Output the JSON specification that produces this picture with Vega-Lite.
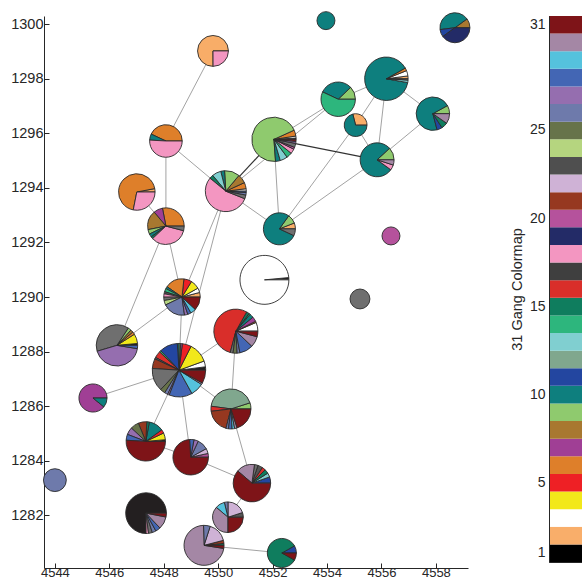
{
"$schema": "https://vega.github.io/schema/vega-lite/v6.json",
"padding": {"left": 10, "top": 9, "right": 0, "bottom": 0},
"config": {"view": {"stroke": null}, "font": "Liberation Sans",
  "axis": {"labelFont": "Liberation Sans", "labelFontSize": 14.5, "labelColor": "#262626", "titleFont": "Liberation Sans", "titleColor": "#262626", "domainColor": "#262626", "tickColor": "#262626", "grid": false}},
"resolve": {"scale": {"color": "independent"}},
"bounds": "flush",
"spacing": 81,
"datasets": {
 "nodes": [
  {"node": "N1", "x": 4549.81, "y": 1299.02},
  {"node": "N2", "x": 4553.96, "y": 1300.13},
  {"node": "N3", "x": 4558.70, "y": 1299.87},
  {"node": "N4", "x": 4547.01, "y": 1293.85},
  {"node": "N5", "x": 4548.08, "y": 1295.72},
  {"node": "N6", "x": 4548.08, "y": 1292.60},
  {"node": "N7", "x": 4550.28, "y": 1293.88},
  {"node": "N8", "x": 4552.05, "y": 1295.78},
  {"node": "N9", "x": 4551.70, "y": 1290.63},
  {"node": "N10", "x": 4554.41, "y": 1297.25},
  {"node": "N11", "x": 4555.05, "y": 1296.30},
  {"node": "N12", "x": 4556.18, "y": 1298.00},
  {"node": "N13", "x": 4557.89, "y": 1296.72},
  {"node": "N14", "x": 4555.84, "y": 1295.03},
  {"node": "N15", "x": 4556.35, "y": 1292.24},
  {"node": "N16", "x": 4555.21, "y": 1289.93},
  {"node": "N17", "x": 4546.28, "y": 1288.23},
  {"node": "N18", "x": 4550.65, "y": 1288.75},
  {"node": "N19", "x": 4548.56, "y": 1287.32},
  {"node": "N20", "x": 4545.40, "y": 1286.30},
  {"node": "N21", "x": 4550.47, "y": 1285.90},
  {"node": "N22", "x": 4548.67, "y": 1290.00},
  {"node": "N23", "x": 4547.34, "y": 1284.71},
  {"node": "N24", "x": 4548.99, "y": 1284.13},
  {"node": "N25", "x": 4551.24, "y": 1283.18},
  {"node": "N26", "x": 4544.00, "y": 1283.29},
  {"node": "N27", "x": 4547.35, "y": 1282.08},
  {"node": "N28", "x": 4550.36, "y": 1281.93},
  {"node": "N29", "x": 4549.48, "y": 1280.90},
  {"node": "N30", "x": 4552.34, "y": 1280.62},
  {"node": "N31", "x": 4552.25, "y": 1292.50}
 ],
 "edges": [
  {"source": "N1", "target": "N5", "tie": "weak"},
  {"source": "N5", "target": "N6", "tie": "weak"},
  {"source": "N5", "target": "N7", "tie": "weak"},
  {"source": "N4", "target": "N6", "tie": "weak"},
  {"source": "N6", "target": "N22", "tie": "weak"},
  {"source": "N6", "target": "N17", "tie": "weak"},
  {"source": "N7", "target": "N10", "tie": "weak"},
  {"source": "N8", "target": "N10", "tie": "weak"},
  {"source": "N10", "target": "N12", "tie": "weak"},
  {"source": "N12", "target": "N13", "tie": "weak"},
  {"source": "N12", "target": "N14", "tie": "weak"},
  {"source": "N12", "target": "N11", "tie": "weak"},
  {"source": "N11", "target": "N31", "tie": "weak"},
  {"source": "N11", "target": "N14", "tie": "weak"},
  {"source": "N14", "target": "N13", "tie": "weak"},
  {"source": "N8", "target": "N31", "tie": "weak"},
  {"source": "N7", "target": "N31", "tie": "weak"},
  {"source": "N14", "target": "N31", "tie": "weak"},
  {"source": "N7", "target": "N22", "tie": "weak"},
  {"source": "N7", "target": "N19", "tie": "weak"},
  {"source": "N22", "target": "N17", "tie": "weak"},
  {"source": "N22", "target": "N19", "tie": "weak"},
  {"source": "N19", "target": "N18", "tie": "weak"},
  {"source": "N19", "target": "N20", "tie": "weak"},
  {"source": "N19", "target": "N21", "tie": "weak"},
  {"source": "N19", "target": "N23", "tie": "weak"},
  {"source": "N19", "target": "N24", "tie": "weak"},
  {"source": "N18", "target": "N21", "tie": "weak"},
  {"source": "N21", "target": "N25", "tie": "weak"},
  {"source": "N23", "target": "N24", "tie": "weak"},
  {"source": "N24", "target": "N25", "tie": "weak"},
  {"source": "N25", "target": "N28", "tie": "weak"},
  {"source": "N29", "target": "N30", "tie": "weak"},
  {"source": "N7", "target": "N8", "tie": "strong"},
  {"source": "N8", "target": "N14", "tie": "strong"}
 ],
 "slices": [
  {"node": "N1", "gang": 2, "n": 199}, {"node": "N1", "gang": 18, "n": 66},
  {"node": "N2", "gang": 10, "n": 90},
  {"node": "N3", "gang": 8, "n": 25}, {"node": "N3", "gang": 10, "n": 105}, {"node": "N3", "gang": 11, "n": 20}, {"node": "N3", "gang": 19, "n": 100},
  {"node": "N4", "gang": 2, "n": 11}, {"node": "N4", "gang": 6, "n": 255}, {"node": "N4", "gang": 18, "n": 104},
  {"node": "N5", "gang": 6, "n": 127}, {"node": "N5", "gang": 10, "n": 18}, {"node": "N5", "gang": 18, "n": 150},
  {"node": "N6", "gang": 6, "n": 104}, {"node": "N6", "gang": 7, "n": 30}, {"node": "N6", "gang": 8, "n": 63}, {"node": "N6", "gang": 9, "n": 15}, {"node": "N6", "gang": 10, "n": 11}, {"node": "N6", "gang": 15, "n": 7}, {"node": "N6", "gang": 18, "n": 126}, {"node": "N6", "gang": 23, "n": 15},
  {"node": "N7", "gang": 3, "n": 9}, {"node": "N7", "gang": 6, "n": 23}, {"node": "N7", "gang": 8, "n": 33}, {"node": "N7", "gang": 9, "n": 56}, {"node": "N7", "gang": 10, "n": 14}, {"node": "N7", "gang": 13, "n": 33}, {"node": "N7", "gang": 15, "n": 14}, {"node": "N7", "gang": 18, "n": 256}, {"node": "N7", "gang": 23, "n": 14}, {"node": "N7", "gang": 26, "n": 9}, {"node": "N7", "gang": 28, "n": 5},
  {"node": "N8", "gang": 1, "n": 5}, {"node": "N8", "gang": 3, "n": 8}, {"node": "N8", "gang": 6, "n": 24}, {"node": "N8", "gang": 9, "n": 378}, {"node": "N8", "gang": 10, "n": 19}, {"node": "N8", "gang": 13, "n": 30}, {"node": "N8", "gang": 14, "n": 22}, {"node": "N8", "gang": 18, "n": 19}, {"node": "N8", "gang": 20, "n": 8}, {"node": "N8", "gang": 23, "n": 16}, {"node": "N8", "gang": 27, "n": 8}, {"node": "N8", "gang": 31, "n": 8},
  {"node": "N9", "gang": 1, "n": 10}, {"node": "N9", "gang": 3, "n": 655},
  {"node": "N10", "gang": 9, "n": 40}, {"node": "N10", "gang": 10, "n": 102}, {"node": "N10", "gang": 14, "n": 188},
  {"node": "N11", "gang": 2, "n": 42}, {"node": "N11", "gang": 10, "n": 103},
  {"node": "N12", "gang": 2, "n": 11}, {"node": "N12", "gang": 3, "n": 21}, {"node": "N12", "gang": 6, "n": 11}, {"node": "N12", "gang": 10, "n": 467}, {"node": "N12", "gang": 13, "n": 10}, {"node": "N12", "gang": 23, "n": 5},
  {"node": "N13", "gang": 9, "n": 25}, {"node": "N13", "gang": 10, "n": 220}, {"node": "N13", "gang": 11, "n": 16}, {"node": "N13", "gang": 15, "n": 19}, {"node": "N13", "gang": 30, "n": 30},
  {"node": "N14", "gang": 9, "n": 38}, {"node": "N14", "gang": 10, "n": 250}, {"node": "N14", "gang": 18, "n": 16}, {"node": "N14", "gang": 30, "n": 16},
  {"node": "N15", "gang": 20, "n": 90},
  {"node": "N16", "gang": 23, "n": 110},
  {"node": "N17", "gang": 1, "n": 7}, {"node": "N17", "gang": 4, "n": 36}, {"node": "N17", "gang": 6, "n": 10}, {"node": "N17", "gang": 8, "n": 10}, {"node": "N17", "gang": 9, "n": 12}, {"node": "N17", "gang": 23, "n": 185}, {"node": "N17", "gang": 27, "n": 204}, {"node": "N17", "gang": 28, "n": 12},
  {"node": "N18", "gang": 3, "n": 35}, {"node": "N18", "gang": 6, "n": 5}, {"node": "N18", "gang": 7, "n": 19}, {"node": "N18", "gang": 10, "n": 16}, {"node": "N18", "gang": 14, "n": 5}, {"node": "N18", "gang": 15, "n": 11}, {"node": "N18", "gang": 16, "n": 292}, {"node": "N18", "gang": 23, "n": 11}, {"node": "N18", "gang": 25, "n": 16}, {"node": "N18", "gang": 26, "n": 11}, {"node": "N18", "gang": 28, "n": 54}, {"node": "N18", "gang": 30, "n": 43}, {"node": "N18", "gang": 31, "n": 22},
  {"node": "N19", "gang": 1, "n": 16}, {"node": "N19", "gang": 3, "n": 28}, {"node": "N19", "gang": 4, "n": 95}, {"node": "N19", "gang": 5, "n": 43}, {"node": "N19", "gang": 7, "n": 8}, {"node": "N19", "gang": 9, "n": 8}, {"node": "N19", "gang": 10, "n": 8}, {"node": "N19", "gang": 11, "n": 87}, {"node": "N19", "gang": 14, "n": 8}, {"node": "N19", "gang": 16, "n": 32}, {"node": "N19", "gang": 17, "n": 8}, {"node": "N19", "gang": 21, "n": 47}, {"node": "N19", "gang": 23, "n": 111}, {"node": "N19", "gang": 25, "n": 24}, {"node": "N19", "gang": 26, "n": 16}, {"node": "N19", "gang": 27, "n": 8}, {"node": "N19", "gang": 28, "n": 111}, {"node": "N19", "gang": 29, "n": 63}, {"node": "N19", "gang": 30, "n": 8}, {"node": "N19", "gang": 31, "n": 63},
  {"node": "N20", "gang": 7, "n": 196}, {"node": "N20", "gang": 10, "n": 24},
  {"node": "N21", "gang": 9, "n": 22}, {"node": "N21", "gang": 12, "n": 191}, {"node": "N21", "gang": 16, "n": 18}, {"node": "N21", "gang": 21, "n": 85}, {"node": "N21", "gang": 26, "n": 9}, {"node": "N21", "gang": 28, "n": 13}, {"node": "N21", "gang": 29, "n": 9}, {"node": "N21", "gang": 30, "n": 9}, {"node": "N21", "gang": 31, "n": 89},
  {"node": "N22", "gang": 2, "n": 15}, {"node": "N22", "gang": 3, "n": 15}, {"node": "N22", "gang": 4, "n": 30}, {"node": "N22", "gang": 5, "n": 26}, {"node": "N22", "gang": 6, "n": 63}, {"node": "N22", "gang": 10, "n": 7}, {"node": "N22", "gang": 14, "n": 11}, {"node": "N22", "gang": 17, "n": 7}, {"node": "N22", "gang": 18, "n": 11}, {"node": "N22", "gang": 23, "n": 11}, {"node": "N22", "gang": 24, "n": 15}, {"node": "N22", "gang": 26, "n": 74}, {"node": "N22", "gang": 27, "n": 11}, {"node": "N22", "gang": 28, "n": 11}, {"node": "N22", "gang": 29, "n": 18}, {"node": "N22", "gang": 31, "n": 44},
  {"node": "N23", "gang": 1, "n": 6}, {"node": "N23", "gang": 4, "n": 24}, {"node": "N23", "gang": 5, "n": 13}, {"node": "N23", "gang": 10, "n": 52}, {"node": "N23", "gang": 15, "n": 9}, {"node": "N23", "gang": 21, "n": 30}, {"node": "N23", "gang": 25, "n": 30}, {"node": "N23", "gang": 27, "n": 26}, {"node": "N23", "gang": 28, "n": 21}, {"node": "N23", "gang": 31, "n": 219},
  {"node": "N24", "gang": 20, "n": 12}, {"node": "N24", "gang": 22, "n": 16}, {"node": "N24", "gang": 26, "n": 35}, {"node": "N24", "gang": 27, "n": 14}, {"node": "N24", "gang": 28, "n": 14}, {"node": "N24", "gang": 31, "n": 259},
  {"node": "N25", "gang": 11, "n": 21}, {"node": "N25", "gang": 13, "n": 14}, {"node": "N25", "gang": 15, "n": 14}, {"node": "N25", "gang": 16, "n": 12}, {"node": "N25", "gang": 17, "n": 16}, {"node": "N25", "gang": 23, "n": 12}, {"node": "N25", "gang": 30, "n": 62}, {"node": "N25", "gang": 31, "n": 239},
  {"node": "N26", "gang": 26, "n": 145},
  {"node": "N27", "gang": 1, "n": 345}, {"node": "N27", "gang": 18, "n": 9}, {"node": "N27", "gang": 23, "n": 14}, {"node": "N27", "gang": 26, "n": 14}, {"node": "N27", "gang": 28, "n": 18}, {"node": "N27", "gang": 30, "n": 46}, {"node": "N27", "gang": 31, "n": 14},
  {"node": "N28", "gang": 17, "n": 13}, {"node": "N28", "gang": 22, "n": 52}, {"node": "N28", "gang": 26, "n": 10}, {"node": "N28", "gang": 29, "n": 26}, {"node": "N28", "gang": 30, "n": 94}, {"node": "N28", "gang": 31, "n": 65},
  {"node": "N29", "gang": 15, "n": 7}, {"node": "N29", "gang": 21, "n": 11}, {"node": "N29", "gang": 22, "n": 71}, {"node": "N29", "gang": 26, "n": 24}, {"node": "N29", "gang": 30, "n": 321}, {"node": "N29", "gang": 31, "n": 11},
  {"node": "N30", "gang": 11, "n": 19}, {"node": "N30", "gang": 15, "n": 197}, {"node": "N30", "gang": 31, "n": 19},
  {"node": "N31", "gang": 2, "n": 17}, {"node": "N31", "gang": 9, "n": 26}, {"node": "N31", "gang": 10, "n": 222}, {"node": "N31", "gang": 23, "n": 20}
 ],
 "gangs": [
  {"gang": 1}, {"gang": 2}, {"gang": 3}, {"gang": 4}, {"gang": 5}, {"gang": 6}, {"gang": 7}, {"gang": 8}, {"gang": 9}, {"gang": 10},
  {"gang": 11}, {"gang": 12}, {"gang": 13}, {"gang": 14}, {"gang": 15}, {"gang": 16}, {"gang": 17}, {"gang": 18}, {"gang": 19}, {"gang": 20},
  {"gang": 21}, {"gang": 22}, {"gang": 23}, {"gang": 24}, {"gang": 25}, {"gang": 26}, {"gang": 27}, {"gang": 28}, {"gang": 29}, {"gang": 30}, {"gang": 31}
 ]
},
"hconcat": [
 {
  "width": 424, "height": 552,
  "layer": [
   {
    "data": {"name": "edges"},
    "transform": [
     {"filter": "datum.tie === 'weak'"},
     {"lookup": "source", "from": {"data": {"name": "nodes"}, "key": "node", "fields": ["x", "y"]}, "as": ["sx", "sy"]},
     {"lookup": "target", "from": {"data": {"name": "nodes"}, "key": "node", "fields": ["x", "y"]}, "as": ["tx", "ty"]}
    ],
    "mark": {"type": "rule", "color": "#a3a3a3", "strokeWidth": 1},
    "encoding": {
     "x": {"field": "sx", "type": "quantitative", "scale": {"domain": [4543.6, 4559.18], "nice": false, "zero": false},
       "axis": {"values": [4544, 4546, 4548, 4550, 4552, 4554, 4556, 4558], "format": "d", "title": null, "tickSize": -5, "labelPadding": 3, "labelFontSize": 13}},
     "y": {"field": "sy", "type": "quantitative", "scale": {"domain": [1280.07, 1300.3], "nice": false, "zero": false},
       "axis": {"values": [1282, 1284, 1286, 1288, 1290, 1292, 1294, 1296, 1298, 1300], "format": "d", "title": null, "tickSize": -5, "labelPadding": 6}},
     "x2": {"field": "tx"},
     "y2": {"field": "ty"}
    }
   },
   {
    "data": {"name": "edges"},
    "transform": [
     {"filter": "datum.tie === 'strong'"},
     {"lookup": "source", "from": {"data": {"name": "nodes"}, "key": "node", "fields": ["x", "y"]}, "as": ["sx", "sy"]},
     {"lookup": "target", "from": {"data": {"name": "nodes"}, "key": "node", "fields": ["x", "y"]}, "as": ["tx", "ty"]}
    ],
    "mark": {"type": "rule", "color": "#333333", "strokeWidth": 1.2},
    "encoding": {
     "x": {"field": "sx", "type": "quantitative"},
     "y": {"field": "sy", "type": "quantitative"},
     "x2": {"field": "tx"},
     "y2": {"field": "ty"}
    }
   },
   {
    "data": {"name": "slices"},
    "transform": [
     {"stack": "n", "groupby": ["node"], "sort": [{"field": "gang", "order": "ascending"}], "offset": "normalize", "as": ["t0", "t1"]},
     {"joinaggregate": [{"op": "sum", "field": "n", "as": "total"}], "groupby": ["node"]},
     {"lookup": "node", "from": {"data": {"name": "nodes"}, "key": "node", "fields": ["x", "y"]}}
    ],
    "mark": {"type": "arc", "stroke": "#2a2a2a", "strokeWidth": 0.9},
    "encoding": {
     "x": {"field": "x", "type": "quantitative"},
     "y": {"field": "y", "type": "quantitative"},
     "theta": {"field": "t0", "type": "quantitative", "stack": null, "scale": {"domain": [0, 1], "range": [1.5707963267948966, -4.71238898038469]}},
     "theta2": {"field": "t1"},
     "radius": {"field": "total", "type": "quantitative", "scale": {"type": "sqrt", "domain": [0, 1000], "range": [0, 30], "zero": true}},
     "color": {"field": "gang", "type": "ordinal", "legend": null,
       "scale": {"domain": [1,2,3,4,5,6,7,8,9,10,11,12,13,14,15,16,17,18,19,20,21,22,23,24,25,26,27,28,29,30,31],
        "range": ["#231f20","#f8ad68","#ffffff","#f2e81a","#ee2025","#de7f2a","#a03f95","#a87830","#8fca6e","#0e7f7e","#2346a0","#80a78e","#80cfd0","#2db67d","#0f7d5e","#d92e2a","#555555","#f396c1","#232b67","#b5529c","#963820","#cfb2d6","#6f6f6f","#b5d57f","#67734a","#6e7aab","#956eaf","#4366b4","#55c2dd","#a487a5","#7e1418"]}}
    }
   }
  ]
 },
 {
  "width": 33, "height": 546,
  "view": {"stroke": "#262626"},
  "data": {"name": "gangs"},
  "mark": {"type": "rect"},
  "encoding": {
   "y": {"field": "gang", "type": "ordinal", "sort": "descending", "scale": {"paddingInner": 0, "paddingOuter": 0},
     "axis": {"values": [1, 5, 10, 15, 20, 25, 31], "ticks": false, "labelPadding": 4, "labelAngle": 0, "labelFontSize": 14, "title": "31 Gang Colormap", "titleFontSize": 14.5, "titleFontWeight": "normal", "titlePadding": 5}},
   "color": {"field": "gang", "type": "ordinal", "legend": null,
     "scale": {"domain": [1,2,3,4,5,6,7,8,9,10,11,12,13,14,15,16,17,18,19,20,21,22,23,24,25,26,27,28,29,30,31],
      "range": ["#000000","#f9ae6a","#ffffff","#f2e81a","#ee2025","#de7f2a","#a03f95","#a87830","#8fca6e","#0e7f7e","#2346a0","#80a78e","#80cfd0","#2db67d","#0f7d5e","#d92e2a","#3f3f3f","#f396c1","#232b67","#b5529c","#963820","#cfb2d6","#4f4f4f","#b5d57f","#67734a","#6e7aab","#956eaf","#4366b4","#55c2dd","#a487a5","#7e1418"]}}
  }
 }
]
}
